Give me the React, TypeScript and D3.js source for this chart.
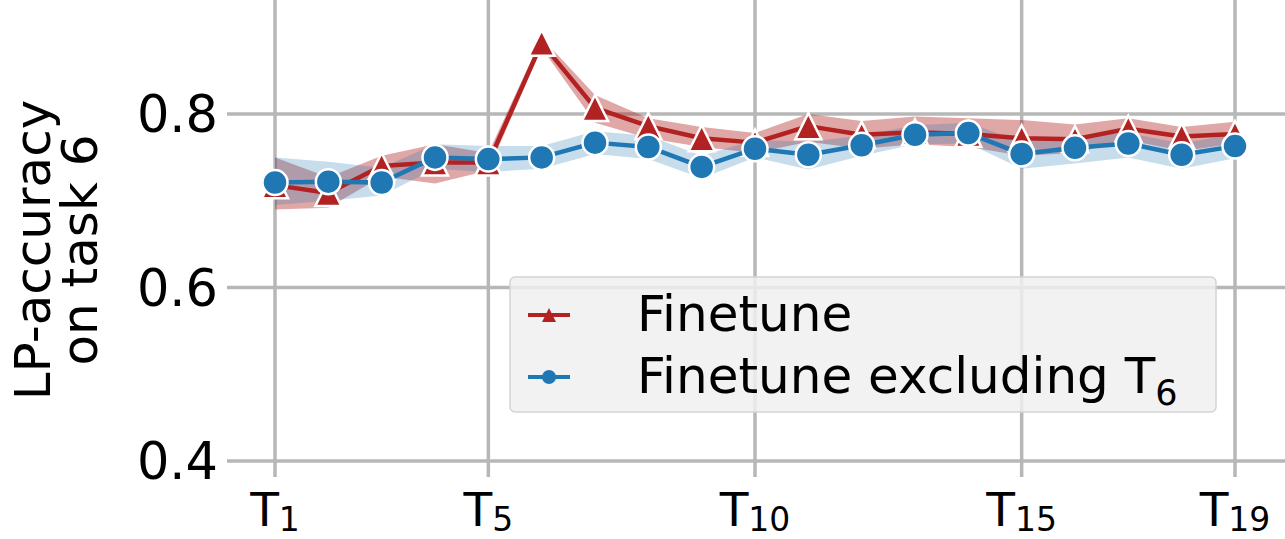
import React from "react";
import * as d3 from "d3";

// Tasks on the x axis (T1 … T19) and the tasks that get a tick label
const tasks = d3.range(1, 20);
const tickTasks = [1, 5, 10, 15, 19];
const yTicks = [0.4, 0.6, 0.8];

// "Finetune": mean LP-accuracy on task 6 with its confidence band
const finetuneMean = [0.718, 0.709, 0.740, 0.744, 0.744, 0.882, 0.807, 0.786, 0.772, 0.767, 0.786, 0.776, 0.779, 0.777, 0.772, 0.771, 0.783, 0.774, 0.777];
const finetuneLow = [0.690, 0.692, 0.728, 0.720, 0.735, 0.876, 0.790, 0.772, 0.762, 0.755, 0.768, 0.760, 0.765, 0.762, 0.752, 0.755, 0.770, 0.757, 0.766];
const finetuneHigh = [0.750, 0.727, 0.752, 0.765, 0.755, 0.888, 0.822, 0.795, 0.785, 0.778, 0.800, 0.792, 0.797, 0.795, 0.793, 0.788, 0.795, 0.785, 0.791];

// "Finetune excluding T6"
const excludingMean = [0.721, 0.722, 0.721, 0.750, 0.748, 0.750, 0.767, 0.762, 0.739, 0.760, 0.753, 0.764, 0.776, 0.778, 0.754, 0.761, 0.766, 0.753, 0.763];
const excludingLow = [0.695, 0.700, 0.706, 0.737, 0.733, 0.737, 0.754, 0.748, 0.726, 0.750, 0.736, 0.752, 0.765, 0.766, 0.737, 0.743, 0.750, 0.737, 0.749];
const excludingHigh = [0.750, 0.745, 0.738, 0.765, 0.763, 0.763, 0.780, 0.775, 0.752, 0.770, 0.768, 0.775, 0.787, 0.790, 0.768, 0.773, 0.778, 0.766, 0.777];

const RED = "#b22222";
const BLUE = "#1f77b4";
const GRID = "#b7b7b7";
const FONT = "DejaVu Sans, sans-serif";

const W = 1285;
const H = 539;

type Row = { t: number; mean: number; low: number; high: number };

const makeRows = (mean: number[], low: number[], high: number[]): Row[] =>
  tasks.map((t, i) => ({ t, mean: mean[i], low: low[i], high: high[i] }));

const series = [
  { name: "Finetune", color: RED, bandOpacity: 0.4, marker: "triangle", rows: makeRows(finetuneMean, finetuneLow, finetuneHigh) },
  { name: "Finetune excluding", color: BLUE, bandOpacity: 0.25, marker: "circle", rows: makeRows(excludingMean, excludingLow, excludingHigh) },
];

const x = d3.scaleLinear().domain([0.1, 19.9]).range([227, 1283]);
const y = d3.scaleLinear().domain([0.4, 0.8]).range([461, 114]);
const plotTop = 0;
const plotBottom = 477;

const triPath = (s: number) => `M0,${-s}L${s},${s}L${-s},${s}Z`;

function Marker({ kind, cx, cy, color, size, edge }: { kind: string; cx: number; cy: number; color: string; size: number; edge: number }) {
  if (kind === "circle") {
    return <circle cx={cx} cy={cy} r={size} fill={color} stroke="#fff" strokeWidth={edge} />;
  }
  return <path d={triPath(size)} transform={`translate(${cx},${cy})`} fill={color} stroke="#fff" strokeWidth={edge} strokeLinejoin="miter" />;
}

export default function App() {
  const line = d3.line<Row>().x((d) => x(d.t)).y((d) => y(d.mean));
  const area = d3.area<Row>().x((d) => x(d.t)).y0((d) => y(d.low)).y1((d) => y(d.high));

  return (
    <svg width={W} height={H} style={{ position: "absolute", left: 0, top: 0, background: "#fff" }} fontFamily={FONT}>
      {/* grid */}
      {yTicks.map((v) => (
        <line key={`gy${v}`} x1={x.range()[0]} x2={W} y1={y(v)} y2={y(v)} stroke={GRID} strokeWidth={3.5} />
      ))}
      {tickTasks.map((t) => (
        <line key={`gx${t}`} x1={x(t)} x2={x(t)} y1={plotTop} y2={plotBottom} stroke={GRID} strokeWidth={3.5} />
      ))}

      {/* confidence bands */}
      {series.map((s) => (
        <path key={`band${s.name}`} d={area(s.rows) ?? ""} fill={s.color} fillOpacity={s.bandOpacity} stroke="none" />
      ))}

      {/* lines and markers */}
      {series.map((s) => (
        <g key={`line${s.name}`}>
          <path d={line(s.rows) ?? ""} fill="none" stroke={s.color} strokeWidth={4.5} strokeLinejoin="round" />
          {s.rows.map((d) => (
            <Marker key={d.t} kind={s.marker} cx={x(d.t)} cy={y(d.mean)} color={s.color} size={s.marker === "circle" ? 12.5 : 13} edge={2.5} />
          ))}
        </g>
      ))}

      {/* y tick labels */}
      {yTicks.map((v) => (
        <text key={`ty${v}`} x={218} y={y(v)} dy="0.36em" textAnchor="end" fontSize={51} fill="#000">
          {d3.format(".1f")(v)}
        </text>
      ))}

      {/* x tick labels */}
      {tickTasks.map((t) => (
        <text key={`tx${t}`} x={x(t)} y={526} textAnchor="middle" fontSize={47} fill="#000">
          T<tspan fontSize={33} dy={5}>{t}</tspan>
        </text>
      ))}

      {/* y axis title */}
      <text transform={`translate(50,250) rotate(-90)`} textAnchor="middle" fontSize={50} fill="#000">
        LP-accuracy
      </text>
      <text transform={`translate(97,250) rotate(-90)`} textAnchor="middle" fontSize={50} fill="#000">
        on task 6
      </text>

      {/* legend */}
      <g>
        <rect x={510} y={277} width={706} height={135} rx={5} fill="#f0f0f0" fillOpacity={0.85} stroke="#d4d4d4" strokeWidth={1.5} />
        {series.map((s, i) => {
          const ly = 315 + i * 62;
          return (
            <g key={`leg${s.name}`}>
              <line x1={528} x2={570} y1={ly} y2={ly} stroke={s.color} strokeWidth={4} />
              <Marker kind={s.marker} cx={549} cy={ly} color={s.color} size={7} edge={0} />
              <text x={637} y={ly + 16} fontSize={50} fill="#000">
                {i === 0 ? (
                  "Finetune"
                ) : (
                  <>
                    Finetune excluding T<tspan fontSize={35} dy={12}>6</tspan>
                  </>
                )}
              </text>
            </g>
          );
        })}
      </g>
    </svg>
  );
}
